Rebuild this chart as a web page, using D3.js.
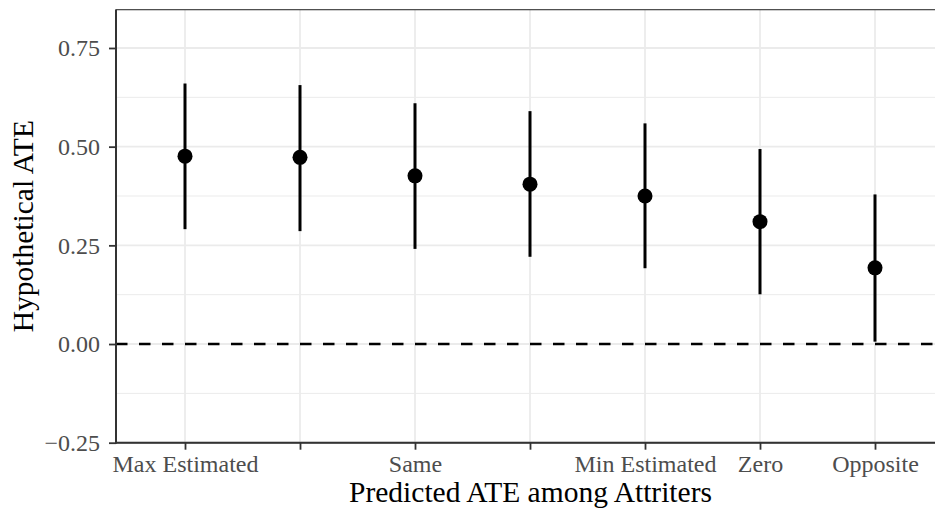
<!DOCTYPE html>
<html>
<head>
<meta charset="utf-8">
<script src="https://cdn.jsdelivr.net/npm/d3@7"></script>
<style>
  html, body { margin: 0; padding: 0; background: #fff; }
  svg { display: block; }
  text { font-family: "Liberation Serif", "DejaVu Serif", serif; }
</style>
</head>
<body>
<svg id="chart" width="935" height="510"></svg>
<script>
// ---- data ----
const xLabels   = ["Max Estimated", "", "Same", "", "Min Estimated", "Zero", "Opposite"];
const estimates = [0.476, 0.473, 0.426, 0.405, 0.375, 0.310, 0.193];
const lower     = [0.291, 0.286, 0.241, 0.221, 0.192, 0.126, 0.006];
const upper     = [0.660, 0.656, 0.610, 0.590, 0.559, 0.494, 0.379];
const yTicks    = [-0.25, 0.00, 0.25, 0.50, 0.75];
const yMinor    = [-0.125, 0.125, 0.375, 0.625];
const refLine   = 0;
const xTitle = "Predicted ATE among Attriters";
const yTitle = "Hypothetical ATE";

// ---- layout ----
const panel = { left: 116, right: 944, top: 9.7, bottom: 442.7 };
const svg = d3.select("#chart");
const idx = d3.range(xLabels.length);

const x = d3.scalePoint().domain(idx).range([185, 875]);
const y = d3.scaleLinear().domain([-0.25, 0.847]).range([panel.bottom, panel.top]);

const g = svg.append("g");

// minor grid
g.selectAll("line.ymin").data(yMinor).join("line")
  .attr("x1", panel.left).attr("x2", panel.right)
  .attr("y1", d => y(d)).attr("y2", d => y(d))
  .attr("stroke", "#EBEBEB").attr("stroke-width", 1.0);
// major grid
g.selectAll("line.ymaj").data(yTicks).join("line")
  .attr("x1", panel.left).attr("x2", panel.right)
  .attr("y1", d => y(d)).attr("y2", d => y(d))
  .attr("stroke", "#EBEBEB").attr("stroke-width", 1.8);
g.selectAll("line.xmaj").data(idx).join("line")
  .attr("y1", panel.top).attr("y2", panel.bottom)
  .attr("x1", d => x(d)).attr("x2", d => x(d))
  .attr("stroke", "#EBEBEB").attr("stroke-width", 1.8);

// reference dashed line
g.append("line")
  .attr("x1", panel.left).attr("x2", panel.right)
  .attr("y1", y(refLine)).attr("y2", y(refLine))
  .attr("stroke", "#000").attr("stroke-width", 2.6)
  .attr("stroke-dasharray", "11.5,11.5");

// error bars
g.selectAll("line.err").data(idx).join("line")
  .attr("x1", d => x(d)).attr("x2", d => x(d))
  .attr("y1", d => y(lower[d])).attr("y2", d => y(upper[d]))
  .attr("stroke", "#000").attr("stroke-width", 3);

// points
g.selectAll("circle").data(idx).join("circle")
  .attr("cx", d => x(d)).attr("cy", d => y(estimates[d]))
  .attr("r", 7.5).attr("fill", "#000");

// panel border
g.append("rect")
  .attr("x", panel.left).attr("y", panel.top)
  .attr("width", panel.right - panel.left).attr("height", panel.bottom - panel.top)
  .attr("fill", "none").attr("stroke", "#333").attr("stroke-width", 1.1);

// axes
const fmt = d3.format(".2f");
const yAxis = d3.axisLeft(y).tickValues(yTicks).tickFormat(fmt).tickSize(7).tickPadding(9);
const xAxis = d3.axisBottom(x).tickFormat(d => xLabels[d]).tickSize(7).tickPadding(6);

const ya = svg.append("g").attr("transform", `translate(${panel.left},0)`).call(yAxis);
const xa = svg.append("g").attr("transform", `translate(0,${panel.bottom})`).call(xAxis);
[ya, xa].forEach(a => {
  a.select(".domain").remove();
  a.selectAll(".tick line").attr("stroke", "#333").attr("stroke-width", 1.8);
  a.selectAll(".tick text").attr("fill", "#4D4D4D")
    .style("font-family", '"Liberation Serif", serif').style("font-size", "24px");
});
xa.selectAll(".tick text").attr("dy", "0.68em");

// axis lines
svg.append("line").attr("x1", panel.left).attr("x2", panel.left)
  .attr("y1", panel.top).attr("y2", panel.bottom + 1)
  .attr("stroke", "#333").attr("stroke-width", 2);
svg.append("line").attr("x1", panel.left - 1).attr("x2", panel.right)
  .attr("y1", panel.bottom).attr("y2", panel.bottom)
  .attr("stroke", "#333").attr("stroke-width", 2);

// titles
svg.append("text").attr("x", (panel.left + 945) / 2).attr("y", 502)
  .attr("text-anchor", "middle").attr("fill", "#000")
  .style("font-size", "29.5px").text(xTitle);
svg.append("text")
  .attr("transform", `translate(33,${(panel.top + panel.bottom) / 2}) rotate(-90)`)
  .attr("text-anchor", "middle").attr("fill", "#000")
  .style("font-size", "29.5px").text(yTitle);
</script>
</body>
</html>
